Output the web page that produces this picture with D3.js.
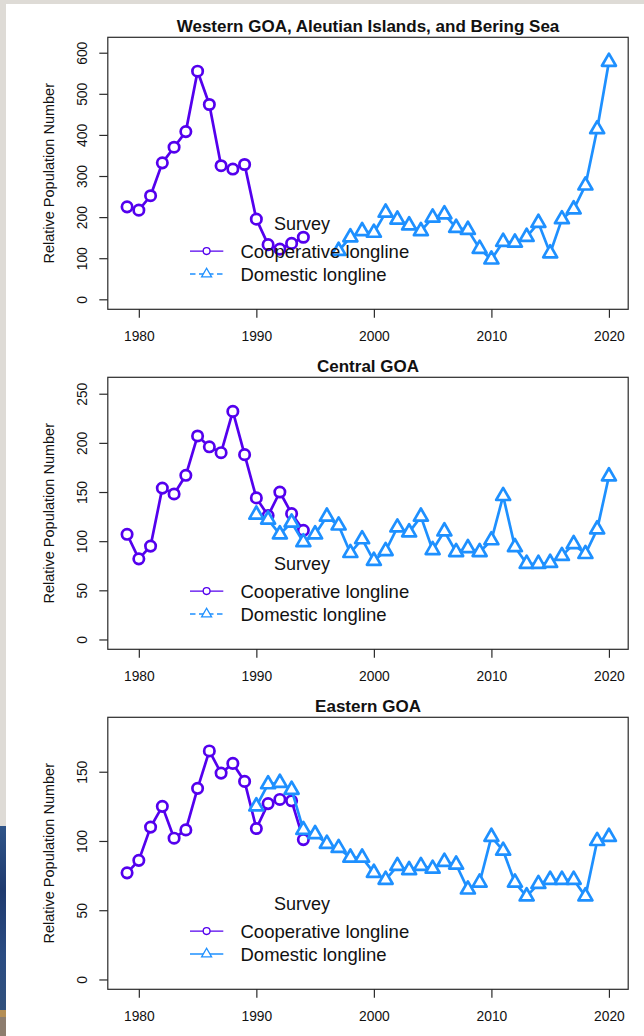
<!DOCTYPE html>
<html>
<head>
<meta charset="utf-8">
<script src="https://cdn.jsdelivr.net/npm/d3@7"></script>
<style>
  html, body { margin: 0; padding: 0; background: #dedbd6; }
  svg { display: block; font-family: "Liberation Sans", Arial, sans-serif; }
</style>
</head>
<body>
<svg id="chart" width="644" height="1036"></svg>
<script>
// ---- data -------------------------------------------------------------
const panelTitles = [
  "Western GOA, Aleutian Islands, and Bering Sea",
  "Central GOA",
  "Eastern GOA"
];
const seriesNames = ["Cooperative longline", "Domestic longline"];
const legendTitle = "Survey";
const axisTitle = "Relative Population Number";

const coopYears = [1979, 1980, 1981, 1982, 1983, 1984, 1985, 1986, 1987, 1988,
                   1989, 1990, 1991, 1992, 1993, 1994];
const westDomYears = [1997, 1998, 1999, 2000, 2001, 2002, 2003, 2004, 2005, 2006,
                      2007, 2008, 2009, 2010, 2011, 2012, 2013, 2014, 2015, 2016,
                      2017, 2018, 2019, 2020];
const goaDomYears = [1990, 1991, 1992, 1993, 1994, 1995, 1996, 1997, 1998, 1999,
                     2000, 2001, 2002, 2003, 2004, 2005, 2006, 2007, 2008, 2009,
                     2010, 2011, 2012, 2013, 2014, 2015, 2016, 2017, 2018, 2019, 2020];

const westCoop = [225, 217, 252, 332, 370, 408, 555, 474, 325, 317, 328, 195, 133, 122, 136, 151];
const westDom = [118, 151, 166, 162, 211, 194, 180, 166, 199, 207, 174, 169,
                 123, 97, 140, 138, 152, 186, 112, 195, 219, 277, 414, 578];

const centralCoop = [107, 82, 95, 154, 148, 167, 207, 196, 190, 232, 188, 144, 126, 150, 128, 111];
const centralDom = [127, 122, 107, 119, 99, 107, 125, 116, 88, 102, 80, 90, 114, 109, 125, 91,
                    110, 89, 93, 89, 101, 146, 94, 77, 77, 78, 85, 97, 87, 112, 166];

const easternCoop = [77, 86, 110, 125, 102, 108, 138, 165, 149, 156, 143, 109, 127, 130, 129, 101];
const easternDom = [125, 141, 142, 137, 108, 105, 98, 95, 88, 88, 77, 72, 82, 79, 82, 80,
                    85, 83, 65, 70, 103, 93, 70, 60, 69, 72, 72, 72, 60, 100, 103];

const xTicks = [1980, 1990, 2000, 2010, 2020];
const yTicksWest = [0, 100, 200, 300, 400, 500, 600];
const yTicksCentral = [0, 50, 100, 150, 200, 250];
const yTicksEastern = [0, 50, 100, 150];

// ---- styling / layout ----------------------------------------------------
const COOP_COLOR = "#5400ee";
const DOM_COLOR = "#1e90ff";
const BOX_LEFT = 107.8, BOX_RIGHT = 628.2;
const BOX_H = 272, FIRST_TOP = 37.3, PANEL_STEP = 340;

const panels = [
  { title: panelTitles[0], coop: westCoop, domYears: westDomYears, dom: westDom,
    ticks: yTicksWest, yDomain: [-24.3, 637.5], dashedKey: true },
  { title: panelTitles[1], coop: centralCoop, domYears: goaDomYears, dom: centralDom,
    ticks: yTicksCentral, yDomain: [-10, 266.7], dashedKey: true },
  { title: panelTitles[2], coop: easternCoop, domYears: goaDomYears, dom: easternDom,
    ticks: yTicksEastern, yDomain: [-7.1, 189.3], dashedKey: false }
];

// triangle marker (centroid at origin), sized from the circle radius
function trianglePath(s) {
  const r = 1.5551 * s, hw = 1.3468 * s, b = 0.7776 * s;
  return `M0,${-r}L${hw},${b}L${-hw},${b}Z`;
}

const svg = d3.select("#chart");

// page backdrop
const defs = svg.append("defs");
const grad = defs.append("linearGradient").attr("id", "edge")
  .attr("x1", 0).attr("y1", 0).attr("x2", 0).attr("y2", 1);
grad.append("stop").attr("offset", "0%").attr("stop-color", "#2f5488");
grad.append("stop").attr("offset", "35%").attr("stop-color", "#1f3a6e");
grad.append("stop").attr("offset", "70%").attr("stop-color", "#2a4c82");
grad.append("stop").attr("offset", "100%").attr("stop-color", "#31507c");

svg.append("rect").attr("width", 644).attr("height", 1036).attr("fill", "#dedbd6");
svg.append("rect").attr("x", 0).attr("y", 826).attr("width", 6).attr("height", 184).attr("fill", "url(#edge)");
svg.append("rect").attr("x", 0).attr("y", 1010).attr("width", 6).attr("height", 7).attr("fill", "#b48e55");
svg.append("rect").attr("x", 0).attr("y", 1017).attr("width", 6).attr("height", 19).attr("fill", "#8d7d6e");
svg.append("rect").attr("x", 6).attr("y", 4).attr("width", 638).attr("height", 1032).attr("fill", "#ffffff");

const x = d3.scaleLinear().domain([1977.36, 2021.64]).range([BOX_LEFT, BOX_RIGHT]);

panels.forEach((p, i) => {
  const top = FIRST_TOP + i * PANEL_STEP;
  const bottom = top + BOX_H;
  const y = d3.scaleLinear().domain(p.yDomain).range([bottom, top]);
  const g = svg.append("g");

  const coopData = coopYears.map((yr, j) => ({ year: yr, value: p.coop[j] }));
  const domData = p.domYears.map((yr, j) => ({ year: yr, value: p.dom[j] }));
  const line = d3.line().x(d => x(d.year)).y(d => y(d.value));

  // cooperative survey
  g.append("path").datum(coopData).attr("d", line)
    .attr("fill", "none").attr("stroke", COOP_COLOR).attr("stroke-width", 2.7)
    .attr("stroke-linejoin", "round");
  g.selectAll("circle.coop").data(coopData).join("circle")
    .attr("class", "coop")
    .attr("cx", d => x(d.year)).attr("cy", d => y(d.value)).attr("r", 5.2)
    .attr("fill", "#fff").attr("stroke", COOP_COLOR).attr("stroke-width", 2.7);

  // domestic survey
  g.append("path").datum(domData).attr("d", line)
    .attr("fill", "none").attr("stroke", DOM_COLOR).attr("stroke-width", 2.7)
    .attr("stroke-linejoin", "round");
  g.selectAll("path.dom").data(domData).join("path")
    .attr("class", "dom")
    .attr("transform", d => `translate(${x(d.year)},${y(d.value)})`)
    .attr("d", trianglePath(5.2))
    .attr("fill", "#fff").attr("stroke", DOM_COLOR).attr("stroke-width", 2.7)
    .attr("stroke-linejoin", "round");

  // legend
  const lg = g.append("g");
  lg.append("text").attr("x", 302).attr("y", top + 192.5)
    .attr("text-anchor", "middle").attr("font-size", 18).attr("fill", "#111")
    .text(legendTitle);
  const rowY = [top + 213.8, top + 236.7];
  lg.append("line").attr("x1", 190).attr("x2", 223.3).attr("y1", rowY[0]).attr("y2", rowY[0])
    .attr("stroke", COOP_COLOR).attr("stroke-width", 1.3);
  lg.append("circle").attr("cx", 206.6).attr("cy", rowY[0]).attr("r", 3.4)
    .attr("fill", "#fff").attr("stroke", COOP_COLOR).attr("stroke-width", 1.3);
  lg.append("line").attr("x1", 190).attr("x2", 223.3).attr("y1", rowY[1]).attr("y2", rowY[1])
    .attr("stroke", DOM_COLOR).attr("stroke-width", 1.3)
    .attr("stroke-dasharray", p.dashedKey ? "5.5,3.5" : null);
  lg.append("path").attr("transform", `translate(206.6,${rowY[1]})`)
    .attr("d", trianglePath(3.7))
    .attr("fill", "#fff").attr("stroke", DOM_COLOR).attr("stroke-width", 1.3);
  seriesNames.forEach((name, j) => {
    lg.append("text").attr("x", 240.5).attr("y", rowY[j] + 6.5)
      .attr("font-size", 18.5).attr("fill", "#111").text(name);
  });

  // frame
  g.append("rect").attr("x", BOX_LEFT).attr("y", top)
    .attr("width", BOX_RIGHT - BOX_LEFT).attr("height", BOX_H)
    .attr("fill", "none").attr("stroke", "#2a2a2a").attr("stroke-width", 1.2);

  // x axis
  const xa = g.append("g").attr("transform", `translate(0,${bottom})`)
    .call(d3.axisBottom(x).tickValues(xTicks).tickFormat(d3.format("d")).tickSize(8.5));
  xa.select(".domain").remove();
  xa.selectAll(".tick line").attr("stroke", "#2a2a2a").attr("stroke-width", 1.2);
  xa.selectAll(".tick text").attr("y", 31.5).attr("dy", null)
    .attr("font-size", 13.8).attr("fill", "#111")
    .attr("font-family", "'Liberation Sans', Arial, sans-serif");

  // y axis
  const ya = g.append("g").attr("transform", `translate(${BOX_LEFT},0)`)
    .call(d3.axisLeft(y).tickValues(p.ticks).tickFormat(d3.format("d")).tickSize(8.5));
  ya.select(".domain").remove();
  ya.selectAll(".tick line").attr("stroke", "#2a2a2a").attr("stroke-width", 1.2);
  ya.selectAll(".tick text")
    .attr("transform", "rotate(-90)")
    .attr("x", 0).attr("y", -20.8).attr("dy", null)
    .attr("text-anchor", "middle")
    .attr("font-size", 13.8).attr("fill", "#111")
    .attr("font-family", "'Liberation Sans', Arial, sans-serif");

  // axis title
  g.append("text")
    .attr("transform", `translate(53.5,${top + BOX_H / 2}) rotate(-90)`)
    .attr("text-anchor", "middle").attr("font-size", 14.5).attr("fill", "#111")
    .text(axisTitle);

  // panel title
  g.append("text").attr("x", (BOX_LEFT + BOX_RIGHT) / 2).attr("y", top - 5.6)
    .attr("text-anchor", "middle").attr("font-size", 17).attr("font-weight", "bold")
    .attr("fill", "#111").text(p.title);
});
</script>
</body>
</html>
